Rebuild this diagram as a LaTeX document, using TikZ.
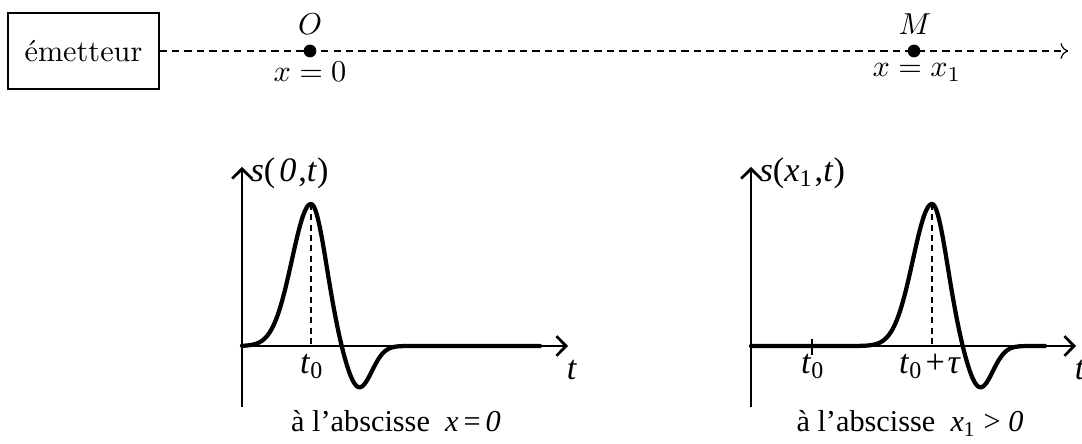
\documentclass[tikz,border=0pt]{standalone}
\usepackage{fontspec}
\newfontfamily\tms{Liberation Serif}
\usetikzlibrary{arrows.meta}
\begin{document}
\begin{tikzpicture}[x=0.33pt,y=-0.33pt,
  box/.style={draw,line width=0.45pt,minimum width=49.8pt,minimum height=25pt,inner sep=0pt},
  dashline/.style={line width=0.4pt,dash pattern=on 2.4pt off 1.7pt},
  dot/.style={circle,fill,inner sep=0pt,minimum size=4.2pt},
  toplbl/.style={inner sep=0pt,anchor=base},
  axis/.style={line width=0.9pt,-{Straight Barb[length=3.2pt,width=6.5pt,line width=0.9pt]}},
  curve/.style={line width=1.4pt,line join=round,line cap=round},
  guide/.style={line width=0.55pt,dash pattern=on 2pt off 1.4pt},
  tickline/.style={line width=0.6pt},
  lbl/.style={font=\tms\fontsize{11.3}{13}\selectfont,inner sep=0pt},
  captxt/.style={font=\tms\fontsize{10}{12}\selectfont,inner sep=0pt,anchor=base}]
\useasboundingbox (0,0) rectangle (1082,444);
% --- top line ---
\node[box] (em) at (83.5,51) {émetteur};
\coordinate (lineend) at (1068,51);
\draw[dashline,->] (em.east) -- (lineend);
\node[dot] (O) at (310,51) {};
\node[dot] (M) at (914,51) {};
\node[toplbl] (Olbl) at (310,35) {$O$};
\node[toplbl] (Mlbl) at (915,35) {$M$};
\node[toplbl] (x0) at (310,82) {$x=0$};
\node[toplbl] (x1) at (917,77) {$x=x_1$};
% --- left plot ---
\coordinate (Lorig) at (242,346);
\coordinate (Lbot) at (242,407);
\coordinate (Ltop) at (242,167);
\coordinate (Lend) at (568,346);
\draw[axis] (Lbot) -- (Ltop);
\draw[axis] (Lorig) -- (Lend);
\draw[curve] plot[domain=0:298,samples=300]
  ({242+\x},{346-(142*exp(-min(((\x-69)/(\x<69?27:21))^2,30))-42*exp(-min(((\x-117)/18)^2,30)))});
\coordinate (Lpeak) at (311,204);
\coordinate (Lfoot) at (311,346);
\draw[guide] (Lpeak) -- (Lfoot);
\node[lbl,anchor=west] (Ls) at (250,173) {\textit{s}(\kern0.12em\textit{0}\kern0.05em,\textit{t})};
\node[lbl] (Lt0) at (312,366) {\textit{t}\textsubscript{0}};
\node[lbl] (Lt) at (572,370) {\textit{t}};
\node[captxt] (Lcap) at (396,432) {à l’abscisse\ \ \textit{x}\,=\,\textit{0}};
% --- right plot ---
\coordinate (Rorig) at (751,346);
\coordinate (Rbot) at (751,407);
\coordinate (Rtop) at (751,167);
\coordinate (Rend) at (1076,346);
\draw[axis] (Rbot) -- (Rtop);
\draw[axis] (Rorig) -- (Rend);
\draw[curve] plot[domain=0:294,samples=320]
  ({751+\x},{346-(142*exp(-min(((\x-181)/(\x<181?27:21))^2,30))-42*exp(-min(((\x-229)/18)^2,30)))});
\coordinate (Rpeak) at (932,204);
\coordinate (Rfoot) at (932,346);
\draw[guide] (Rpeak) -- (Rfoot);
\coordinate (Rtk1) at (812,339);
\coordinate (Rtk2) at (812,355);
\draw[tickline] (Rtk1) -- (Rtk2);
\node[lbl,anchor=west] (Rs) at (759,173) {\textit{s}(\textit{x}\textsubscript{1}\kern0.05em,\textit{t})};
\node[lbl] (Rt0) at (813,366) {\textit{t}\textsubscript{0}};
\node[lbl] (Rt0tau) at (930,366) {\textit{t}\textsubscript{0}\kern0.08em+\kern0.08em\textit{τ}};
\node[lbl] (Rt) at (1080,370) {\textit{t}};
\node[captxt] (Rcap) at (910,432) {à l’abscisse\ \ \textit{x}\textsubscript{1}\ >\ \textit{0}};
\end{tikzpicture}
\end{document}
